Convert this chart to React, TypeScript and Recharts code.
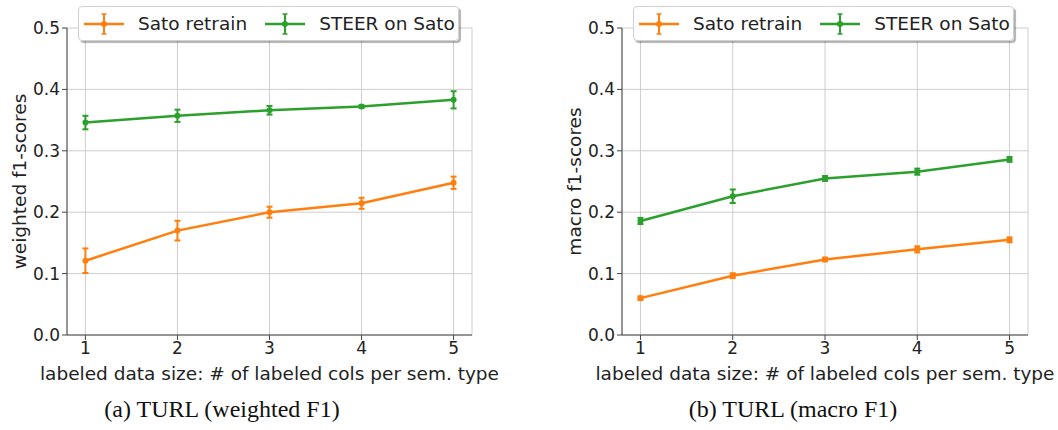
import { LineChart, Line, XAxis, YAxis, CartesianGrid, ErrorBar } from "recharts"

// labeled cols per semantic type
const sizes = [1, 2, 3, 4, 5]

// (a) weighted F1
const weightedSato = [0.121, 0.17, 0.2, 0.2145, 0.248]
const weightedSatoErr = [0.02, 0.016, 0.009, 0.009, 0.01]
const weightedSteer = [0.346, 0.357, 0.366, 0.372, 0.383]
const weightedSteerErr = [0.011, 0.01, 0.007, 0.002, 0.014]

// (b) macro F1
const macroSato = [0.06, 0.0966, 0.123, 0.1395, 0.155]
const macroSatoErr = [0.003, 0.004, 0.003, 0.005, 0.004]
const macroSteer = [0.1857, 0.226, 0.255, 0.266, 0.286]
const macroSteerErr = [0.005, 0.011, 0.004, 0.005, 0.004]

const yTicks = [0, 0.1, 0.2, 0.3, 0.4, 0.5]
const seriesNames = ["Sato retrain", "STEER on Sato"]
const captions = ["(a) TURL (weighted F1)", "(b) TURL (macro F1)"]

const ORANGE = "#ff7f0e"
const GREEN = "#2ca02c"
const FONT = "'DejaVu Sans', sans-serif"
const LABEL_SIZE = 18.5

function LegendKey({ color }: { color: string }) {
  return (
    <svg width={40} height={26} style={{ display: "block", flex: "none" }}>
      <line x1={0} x2={40} y1={13} y2={13} stroke={color} strokeWidth={2.5} />
      <line x1={20} x2={20} y1={3} y2={23} stroke={color} strokeWidth={2} />
      <line x1={17.5} x2={22.5} y1={3} y2={3} stroke={color} strokeWidth={1.5} />
      <line x1={17.5} x2={22.5} y1={23} y2={23} stroke={color} strokeWidth={1.5} />
      <circle cx={20} cy={13} r={3} fill={color} />
    </svg>
  )
}

function LegendBox({ left }: { left: number }) {
  return (
    <div
      style={{
        position: "absolute",
        left,
        top: 6,
        height: 33,
        display: "flex",
        alignItems: "center",
        padding: "0 3px 0 5px",
        background: "rgba(255,255,255,0.95)",
        border: "1px solid #d0d0d0",
        borderRadius: 4,
        boxShadow: "2px 2px 1px rgba(0,0,0,0.3)",
        fontFamily: FONT,
        fontSize: LABEL_SIZE,
        color: "#222",
        whiteSpace: "nowrap",
      }}
    >
      <LegendKey color={ORANGE} />
      <span style={{ marginLeft: 14, marginRight: 18 }}>{seriesNames[0]}</span>
      <LegendKey color={GREEN} />
      <span style={{ marginLeft: 14 }}>{seriesNames[1]}</span>
    </div>
  )
}

function Panel({
  sato, satoErr, steer, steerErr, yLabel, marginLeft, marginRight,
}: {
  sato: number[]; satoErr: number[]; steer: number[]; steerErr: number[]
  yLabel: string; marginLeft: number; marginRight: number
}) {
  const data = sizes.map((x, i) => ({
    x,
    sato: sato[i],
    satoErr: satoErr[i],
    steer: steer[i],
    steerErr: steerErr[i],
  }))

  return (
    <LineChart
      width={518}
      height={385}
      data={data}
      margin={{ top: 28, right: marginRight, left: marginLeft, bottom: 5 }}
      style={{ fontFamily: FONT }}
    >
      <CartesianGrid stroke="#c8c8c8" strokeWidth={0.9} />
      <XAxis
        dataKey="x"
        type="number"
        domain={[0.8, 5.2]}
        ticks={sizes}
        height={45}
        tickSize={5}
        stroke="#444"
        tick={{ fill: "#222", fontSize: 17 }}
        tickMargin={2}
        label={{
          value: "labeled data size: # of labeled cols per sem. type",
          position: "insideBottom",
          offset: 0,
          fill: "#222",
          fontSize: LABEL_SIZE,
          style: { fontSize: LABEL_SIZE },
        }}
      />
      <XAxis
        xAxisId="top"
        orientation="top"
        dataKey="x"
        type="number"
        domain={[0.8, 5.2]}
        height={0}
        tick={false}
        tickLine={false}
        stroke="#444"
      />
      <YAxis
        type="number"
        domain={[0, 0.5]}
        ticks={yTicks}
        width={50}
        tickSize={5}
        stroke="#444"
        tick={{ fill: "#222", fontSize: 17 }}
        tickFormatter={(v: number) => v.toFixed(1)}
        label={{
          value: yLabel,
          angle: -90,
          position: "left",
          offset: -2,
          fill: "#222",
          fontSize: LABEL_SIZE,
          style: { textAnchor: "middle", fontSize: LABEL_SIZE },
        }}
      />
      <YAxis
        yAxisId="right"
        orientation="right"
        domain={[0, 0.5]}
        width={0}
        tick={false}
        tickLine={false}
        stroke="#444"
      />
      <Line
        dataKey="sato"
        stroke={ORANGE}
        strokeWidth={2.5}
        dot={{ r: 3, fill: ORANGE, stroke: ORANGE, strokeWidth: 0 }}
        isAnimationActive={false}
      >
        <ErrorBar dataKey="satoErr" width={3} stroke={ORANGE} strokeWidth={2} direction="y" />
      </Line>
      <Line
        dataKey="steer"
        stroke={GREEN}
        strokeWidth={2.5}
        dot={{ r: 3, fill: GREEN, stroke: GREEN, strokeWidth: 0 }}
        isAnimationActive={false}
      >
        <ErrorBar dataKey="steerErr" width={3} stroke={GREEN} strokeWidth={2} direction="y" />
      </Line>
    </LineChart>
  )
}

export default function App() {
  return (
    <div style={{ position: "absolute", left: 0, top: 0, width: 1058, height: 430, background: "#fff" }}>
      <div style={{ position: "absolute", left: 0, top: 0 }}>
        <Panel
          sato={weightedSato}
          satoErr={weightedSatoErr}
          steer={weightedSteer}
          steerErr={weightedSteerErr}
          yLabel="weighted f1-scores"
          marginLeft={17}
          marginRight={46}
        />
      </div>
      <div style={{ position: "absolute", left: 540, top: 0 }}>
        <Panel
          sato={macroSato}
          satoErr={macroSatoErr}
          steer={macroSteer}
          steerErr={macroSteerErr}
          yLabel="macro f1-scores"
          marginLeft={32}
          marginRight={30}
        />
      </div>
      <LegendBox left={78} />
      <LegendBox left={633} />
      <div
        style={{
          position: "absolute",
          top: 396,
          left: 0,
          width: 1058,
          fontFamily: "'Liberation Serif', serif",
          fontSize: 24,
          color: "#111",
        }}
      >
        <span style={{ position: "absolute", left: 222, transform: "translateX(-50%)", whiteSpace: "nowrap" }}>
          {captions[0]}
        </span>
        <span style={{ position: "absolute", left: 793, transform: "translateX(-50%)", whiteSpace: "nowrap" }}>
          {captions[1]}
        </span>
      </div>
    </div>
  )
}
